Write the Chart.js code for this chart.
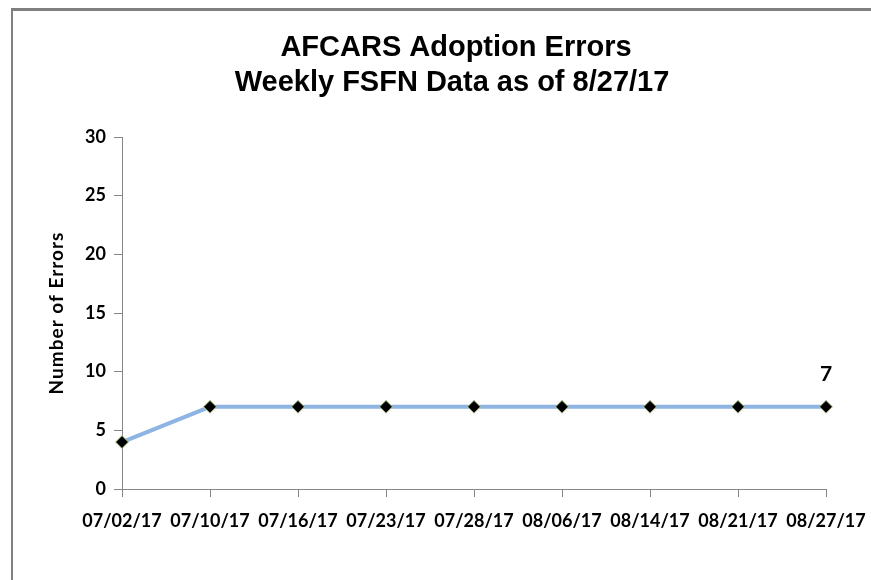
<!DOCTYPE html>
<html>
<head>
<meta charset="utf-8">
<script src="https://cdn.jsdelivr.net/npm/chart.js@4"></script>
<style>
  html, body { margin: 0; padding: 0; background: #fff; }
  #wrap { position: relative; width: 871px; height: 580px; }
  #frame { position: absolute; left: 11px; top: 8px; right: -10px; bottom: -10px;
           border-top: 3px solid #808080; border-left: 2px solid #808080; }
  #chart { position: absolute; left: 0; top: 0; }
</style>
</head>
<body>
<div id="wrap">
  <div id="frame"></div>
  <canvas id="chart" width="871" height="580"></canvas>
</div>
<script>
const weeks = ['07/02/17', '07/10/17', '07/16/17', '07/23/17', '07/28/17', '08/06/17', '08/14/17', '08/21/17', '08/27/17'];
const errors = [4, 7, 7, 7, 7, 7, 7, 7, 7];
const titleLines = ['AFCARS Adoption Errors', 'Weekly FSFN Data as of 8/27/17'];
const yTitle = 'Number of Errors';
const yMin = 0;
const yMax = 30;
const yStep = 5;

const labelFont = 'Lato, "Open Sans", sans-serif';

const decorations = {
    id: 'decorations',
    afterDraw(chart) {
        const c = chart.ctx;
        c.save();
        c.fillStyle = '#000';
        c.textAlign = 'center';
        c.textBaseline = 'middle';
        c.font = 'bold 29px "Liberation Sans", Arial, sans-serif';
        c.fillText(titleLines[0], 456, 48);
        c.fillText(titleLines[1], 452, 83);
        c.restore();

        // y axis title
        c.save();
        c.fillStyle = '#000';
        c.textAlign = 'center';
        c.textBaseline = 'middle';
        c.font = 'bold 19px ' + labelFont;
        c.letterSpacing = '1px';
        c.translate(57, 313);
        c.rotate(-Math.PI / 2);
        c.fillText(yTitle, 0, 0);
        c.restore();

        // label on last point
        const meta = chart.getDatasetMeta(0);
        const last = meta.data[meta.data.length - 1];
        c.save();
        c.fillStyle = '#000';
        c.textAlign = 'center';
        c.textBaseline = 'middle';
        c.font = 'bold 21px ' + labelFont;
        c.fillText(String(errors[errors.length - 1]), last.x, last.y - 33);
        c.restore();
    }
};

new Chart(document.getElementById('chart'), {
    type: 'line',
    data: {
        labels: weeks,
        datasets: [{
            data: errors,
            borderColor: '#8db4e2',
            borderWidth: 4,
            tension: 0,
            pointStyle: 'rectRot',
            pointRadius: 6.5,
            pointBackgroundColor: '#000',
            pointBorderColor: '#c3d69b',
            pointBorderWidth: 1
        }]
    },
    options: {
        responsive: false,
        animation: false,
        layout: { padding: { left: 40, right: 45, top: 137, bottom: 0 } },
        plugins: {
            legend: { display: false },
            tooltip: { enabled: false }
        },
        scales: {
            x: {
                offset: false,
                grid: { drawOnChartArea: false, color: '#868686', tickLength: 8 },
                border: { color: '#868686', width: 1 },
                ticks: {
                    color: '#000',
                    font: { family: labelFont, size: 18, weight: 'bold' },
                    padding: 13,
                    maxRotation: 0,
                    autoSkip: false
                },
                afterFit(scale) {
                    scale.height = 91;
                    scale.paddingLeft = 0;
                    scale.paddingRight = 0;
                }
            },
            y: {
                min: yMin,
                max: yMax,
                grid: { drawOnChartArea: false, color: '#868686', tickLength: 8 },
                border: { color: '#868686', width: 1 },
                ticks: {
                    stepSize: yStep,
                    color: '#000',
                    font: { family: labelFont, size: 18, weight: 'bold' },
                    padding: 8
                },
                afterFit(scale) { scale.width = 82; }
            }
        }
    },
    plugins: [decorations]
});
</script>
</body>
</html>
